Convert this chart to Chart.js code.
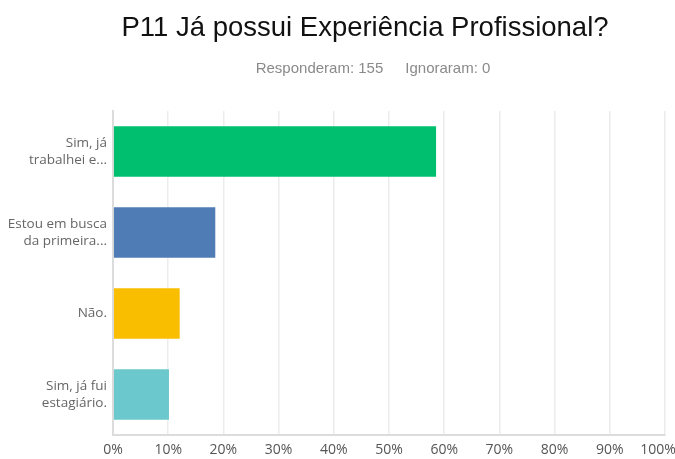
<!DOCTYPE html>
<html>
<head>
<meta charset="utf-8">
<script src="https://cdn.jsdelivr.net/npm/chart.js@4"></script>
<style>
  body { margin: 0; background: #fff; }
  #wrap { position: relative; width: 675px; height: 459px; }
  #chart { position: absolute; left: 0; top: 0; }
  .title {
    position: absolute; left: 365px; top: 11px; transform: translateX(-50%);
    white-space: nowrap; font-family: "Liberation Sans", Arial, sans-serif;
    font-size: 27.5px; color: #111;
  }
  .sub {
    position: absolute; left: 373px; top: 59px; transform: translateX(-50%);
    white-space: nowrap; font-family: "Liberation Sans", Arial, sans-serif;
    font-size: 15px; color: #8a8a8a;
  }
  .sub span + span { margin-left: 22px; }
</style>
</head>
<body>
<div id="wrap">
  <canvas id="chart" width="675" height="459"></canvas>
  <div class="title">P11 Já possui Experiência Profissional?</div>
  <div class="sub"><span>Responderam: 155</span><span>Ignoraram: 0</span></div>
</div>
<script>
// answer options (already cut like in the survey export)
const categories = [
  ["Sim, já", "trabalhei e..."],
  ["Estou em busca", "da primeira..."],
  ["Não."],
  ["Sim, já fui", "estagiário."],
];
const percentages = [58.71, 18.71, 12.26, 10.32];
const barColors = ["#00bf6f", "#507cb6", "#f9be00", "#6bc8cd"];
const xTicks = [0, 10, 20, 30, 40, 50, 60, 70, 80, 90, 100];

const ctx = document.getElementById("chart");
new Chart(ctx, {
  type: "bar",
  data: {
    labels: categories,
    datasets: [{
      data: percentages,
      backgroundColor: barColors,
      borderColor: "rgba(255,255,255,0.35)",
      borderWidth: 1,
      barPercentage: 0.65,
      categoryPercentage: 1,
    }],
  },
  options: {
    indexAxis: "y",
    responsive: false,
    animation: false,
    layout: { padding: { top: 111, right: 10, left: 0, bottom: 0 } },
    plugins: {
      legend: { display: false },
      tooltip: { enabled: false },
    },
    scales: {
      x: {
        min: 0,
        max: 100,
        afterBuildTicks: (scale) => { scale.ticks = xTicks.map((v) => ({ value: v })); },
        afterFit: (scale) => {
          scale.height = 459 - 435;
          scale.paddingLeft = 0;
          scale.paddingRight = 0;
        },
        ticks: {
          // last label pushed left so it stays inside the canvas
          callback: (v) => (v === 100 ? v + "%\u2002\u2002" : v + "%"),
          color: "#555",
          padding: 7,
          maxRotation: 0,
          autoSkip: false,
          font: { family: "'Open Sans', sans-serif", size: 14 },
        },
        grid: { color: "#ececec", lineWidth: 1.5, drawTicks: false },
        border: { color: "#dcdcdc", width: 2 },
      },
      y: {
        afterFit: (scale) => { scale.width = 113; },
        ticks: {
          color: "#666",
          padding: 6,
          font: { family: "'Open Sans', sans-serif", size: 13.5, lineHeight: 1.3 },
        },
        grid: { display: false, drawTicks: false },
        border: { color: "#dcdcdc", width: 2 },
      },
    },
  },
});
</script>
</body>
</html>
